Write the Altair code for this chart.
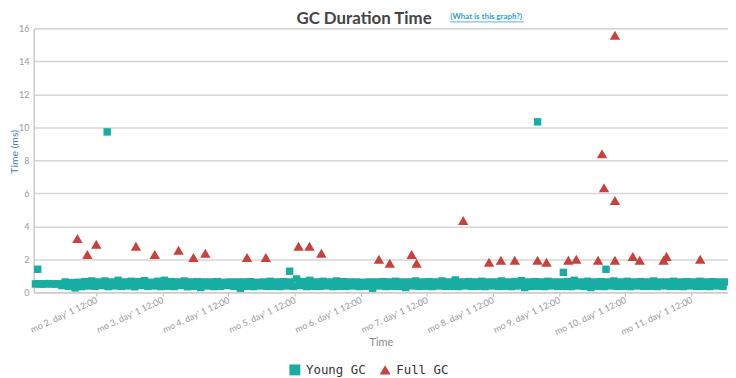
import altair as alt
import pandas as pd

title_text = "GC Duration Time"
link_text = "(What is this graph?)"
series_names = ["Young GC", "Full GC"]
series_colors = ["#17ada2", "#c8413d"]
series_shapes = ["square", "triangle-up"]
month_ticks = [2, 3, 4, 5, 6, 7, 8, 9, 10, 11]
y_ticks = [0, 2, 4, 6, 8, 10, 12, 14, 16]

# Young GC: dense band of regular collections (sampling start / step in month units)
band_start = 1.08
band_step = 0.05
young_band = [
    0.50, 0.51, 0.49, 0.50, 0.52, 0.50, 0.49, 0.51, 0.40, 0.62, 0.36, 0.58, 0.26, 0.60, 0.34, 0.64, 0.38, 0.68, 0.36, 0.62,
    0.40, 0.68, 0.34, 0.62, 0.38, 0.72, 0.35, 0.62, 0.38, 0.66, 0.33, 0.64, 0.40, 0.70, 0.35, 0.60, 0.38, 0.66, 0.34, 0.72,
    0.36, 0.64, 0.34, 0.62, 0.40, 0.68, 0.33, 0.62, 0.36, 0.64, 0.28, 0.62, 0.38, 0.62, 0.34, 0.64, 0.36, 0.60, 0.40, 0.62,
    0.35, 0.62, 0.24, 0.62, 0.36, 0.64, 0.34, 0.60, 0.38, 0.62, 0.35, 0.66, 0.36, 0.62, 0.34, 0.64, 0.38, 0.62, 0.35, 0.80,
    0.40, 0.64, 0.34, 0.72, 0.36, 0.62, 0.35, 0.66, 0.38, 0.62, 0.34, 0.68, 0.36, 0.64, 0.35, 0.62, 0.38, 0.62, 0.34, 0.60,
    0.36, 0.62, 0.24, 0.62, 0.38, 0.64, 0.34, 0.62, 0.36, 0.66, 0.35, 0.62, 0.28, 0.62, 0.38, 0.68, 0.35, 0.62, 0.36, 0.64,
    0.34, 0.62, 0.38, 0.68, 0.35, 0.62, 0.36, 0.74, 0.34, 0.62, 0.38, 0.64, 0.35, 0.62, 0.36, 0.66, 0.34, 0.62, 0.38, 0.62,
    0.35, 0.68, 0.36, 0.62, 0.34, 0.64, 0.38, 0.70, 0.28, 0.62, 0.35, 0.64, 0.36, 0.62, 0.34, 0.66, 0.38, 0.62, 0.35, 0.62,
    0.36, 0.64, 0.34, 0.72, 0.38, 0.62, 0.35, 0.66, 0.28, 0.62, 0.36, 0.64, 0.34, 0.62, 0.38, 0.68, 0.35, 0.62, 0.36, 0.66,
    0.34, 0.62, 0.38, 0.64, 0.35, 0.62, 0.36, 0.68, 0.34, 0.62, 0.38, 0.62, 0.35, 0.66, 0.36, 0.62, 0.34, 0.64, 0.38, 0.62,
    0.35, 0.66, 0.36, 0.62, 0.34, 0.64, 0.38, 0.62, 0.35, 0.62,
]
young_out_t = [1.115, 2.165, 4.925, 8.675, 9.065, 9.71]
young_out_v = [1.39, 9.72, 1.27, 10.33, 1.20, 1.39]

full_t = [1.715, 1.865, 2.0, 2.6, 2.885, 3.245, 3.47, 3.65, 4.28, 4.565, 5.06, 5.225, 5.405,
          6.275, 6.44, 6.77, 6.845, 7.55, 7.94, 8.12, 8.33, 8.675, 8.81, 9.14, 9.26, 9.59,
          9.65, 9.68, 9.845, 9.845, 9.845, 10.115, 10.22, 10.58, 10.625, 11.135]
full_v = [3.26, 2.29, 2.90, 2.78, 2.29, 2.54, 2.11, 2.36, 2.11, 2.11, 2.78, 2.78, 2.36,
          2.00, 1.75, 2.29, 1.75, 4.35, 1.81, 1.93, 1.93, 1.93, 1.81, 1.93, 2.00, 1.93,
          8.39, 6.34, 1.93, 5.56, 15.58, 2.17, 1.93, 1.93, 2.17, 2.00]

young_rows = []
for i, v in enumerate(young_band):
    young_rows.append({"t": band_start + i * band_step, "ms": v, "series": "Young GC"})
for t, v in zip(young_out_t, young_out_v):
    young_rows.append({"t": t, "ms": v, "series": "Young GC"})
young_df = pd.DataFrame(young_rows)
full_df = pd.DataFrame({"t": full_t, "ms": full_v, "series": ["Full GC"] * len(full_t)})

legend = alt.Legend(
    orient="none", legendX=257, legendY=338, direction="horizontal", title=None,
    symbolSize=121, symbolStrokeWidth=0, labelFont="DejaVu Sans Mono", labelFontSize=12.5,
    labelColor="#333333", columnPadding=13, labelOffset=5, padding=0,
)

x_enc = alt.X(
    "t:Q",
    title="Time",
    scale=alt.Scale(domain=[1.055, 11.555], nice=False, zero=False),
    axis=alt.Axis(
        values=month_ticks,
        labelExpr='"mo " + datum.value + ", day\' 1 12:00"',
        labelAngle=-25, labelAlign="right", labelBaseline="middle", labelPadding=3,
        labelOverlap=False,
        labelFont="Lato", labelFontSize=9, labelColor="#999999",
        grid=False, ticks=True, tickColor="#bbbbbb", tickSize=4,
        domainColor="#cccccc", domainWidth=1.5,
        titleFont="Lato", titleFontSize=11, titleFontWeight="normal", titleColor="#888888",
        titleY=45,
    ),
)
y_enc = alt.Y(
    "ms:Q",
    title="Time (ms)",
    scale=alt.Scale(domain=[0, 16], nice=False),
    axis=alt.Axis(
        values=y_ticks, ticks=False, labelPadding=5,
        labelFont="Lato", labelFontSize=9, labelColor="#999999",
        grid=True, gridColor="#d6d6d6", gridWidth=1.5,
        domainColor="#cccccc", domainWidth=1.5,
        titleFont="Lato", titleFontSize=10.5, titleFontWeight="normal", titleColor="#3d7cc0",
        titleX=-14, titleY=124,
    ),
)
color_enc = alt.Color("series:N", scale=alt.Scale(domain=series_names, range=series_colors), legend=legend)
shape_enc = alt.Shape("series:N", scale=alt.Scale(domain=series_names, range=series_shapes), legend=legend)

young = alt.Chart(young_df).mark_point(filled=True, opacity=1, strokeWidth=0, size=56).encode(
    x=x_enc, y=y_enc, color=color_enc, shape=shape_enc
)
full = alt.Chart(full_df).mark_point(filled=True, opacity=1, strokeWidth=0, size=110).encode(
    x=x_enc, y=y_enc, color=color_enc, shape=shape_enc
)

head = pd.DataFrame({"title": [title_text], "link": [link_text]})
title = alt.Chart(head).mark_text(
    font="Lato", fontSize=17, fontWeight="bold", color="#444444", align="center", baseline="middle"
).encode(text="title:N", x=alt.value(333), y=alt.value(-9))
link = alt.Chart(head).mark_text(
    font="Lato", fontSize=8, color="#2a9fd6", align="left", baseline="middle", fontWeight="bold"
).encode(text="link:N", x=alt.value(420), y=alt.value(-11))
underline = alt.Chart(head).mark_rule(color="#2a9fd6", strokeWidth=0.8).encode(
    x=alt.value(420), x2=alt.value(494), y=alt.value(-6.5)
)

chart = alt.layer(young, full, title, link, underline).properties(
    width=700, height=266,
    autosize="none",
    padding={"left": 26, "top": 19, "right": 0, "bottom": 85},
).configure_view(stroke=None).configure(background="white")

chart.save("out.html", embed_options={"renderer": "svg", "actions": False})
